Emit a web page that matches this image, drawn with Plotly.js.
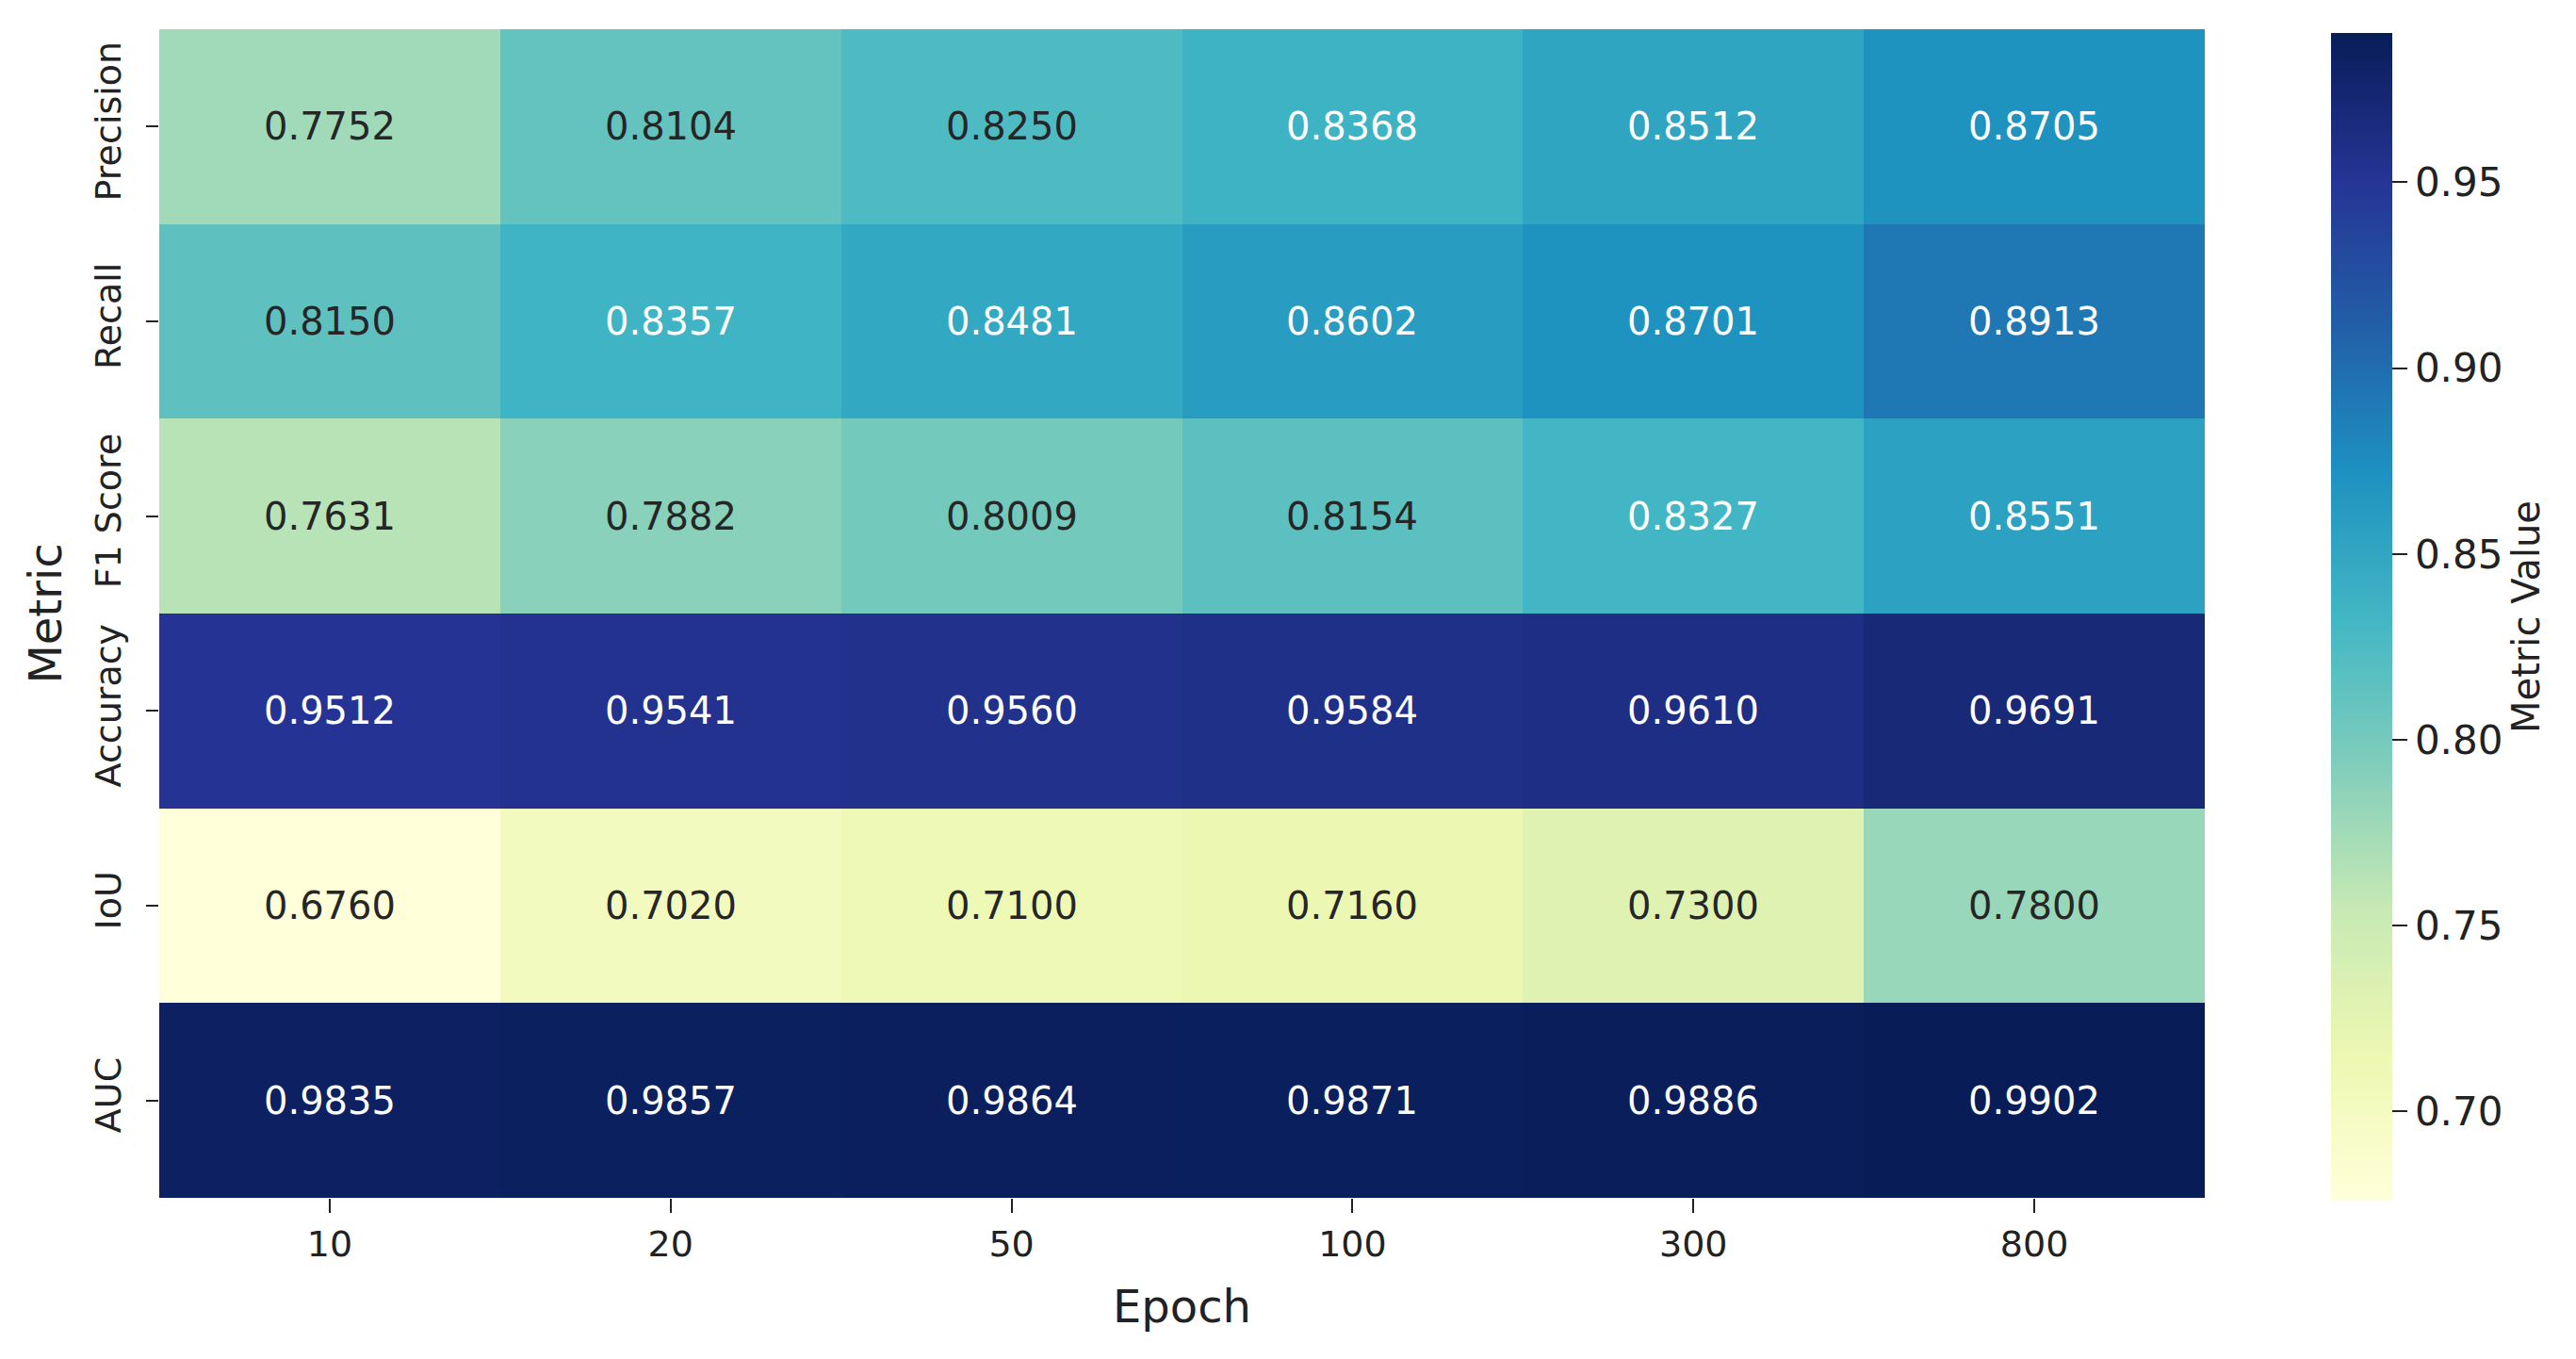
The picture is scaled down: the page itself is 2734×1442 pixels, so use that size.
<!DOCTYPE html>
<html>
<head>
<meta charset="utf-8">
<script src="https://cdn.plot.ly/plotly-3.0.1.min.js"></script>
<style>
html,body{margin:0;padding:0;background:#fff;}
#chart{width:2734px;height:1442px;}
</style>
</head>
<body>
<div id="chart"></div>
<script>
const epochs = ['10', '20', '50', '100', '300', '800'];
const metrics = ['Precision', 'Recall', 'F1 Score', 'Accuracy', 'IoU', 'AUC'];
const precision = [0.7752, 0.8104, 0.8250, 0.8368, 0.8512, 0.8705];
const recall    = [0.8150, 0.8357, 0.8481, 0.8602, 0.8701, 0.8913];
const f1score   = [0.7631, 0.7882, 0.8009, 0.8154, 0.8327, 0.8551];
const accuracy  = [0.9512, 0.9541, 0.9560, 0.9584, 0.9610, 0.9691];
const iou       = [0.6760, 0.7020, 0.7100, 0.7160, 0.7300, 0.7800];
const auc       = [0.9835, 0.9857, 0.9864, 0.9871, 0.9886, 0.9902];
const cbTicks   = [0.70, 0.75, 0.80, 0.85, 0.90, 0.95];

const z = [precision, recall, f1score, accuracy, iou, auc];
const flat = z.flat();
const zmin = Math.min(...flat), zmax = Math.max(...flat);

const ylgnbu = ['#ffffd9','#edf8b1','#c7e9b4','#7fcdbb','#41b6c4','#1d91c0','#225ea8','#253494','#081d58'];
const colorscale = ylgnbu.map((c, i) => [i / (ylgnbu.length - 1), c]);

function hexToRgb(h){return [parseInt(h.slice(1,3),16),parseInt(h.slice(3,5),16),parseInt(h.slice(5,7),16)];}
function colorAt(t){
  t = Math.max(0, Math.min(1, t));
  const n = ylgnbu.length - 1;
  const i = Math.min(n - 1, Math.floor(t * n));
  const f = t * n - i;
  const a = hexToRgb(ylgnbu[i]), b = hexToRgb(ylgnbu[i + 1]);
  return a.map((v, k) => v + (b[k] - v) * f);
}
function luminance(rgb){
  const lin = rgb.map(v => { v /= 255; return v <= 0.03928 ? v / 12.92 : Math.pow((v + 0.055) / 1.055, 2.4); });
  return 0.2126 * lin[0] + 0.7152 * lin[1] + 0.0722 * lin[2];
}

const annotations = [];
metrics.forEach((m, r) => {
  epochs.forEach((e, c) => {
    const v = z[r][c];
    const lum = luminance(colorAt((v - zmin) / (zmax - zmin)));
    annotations.push({
      x: c, y: r, xref: 'x', yref: 'y',
      text: v.toFixed(4), showarrow: false,
      font: {family: 'DejaVu Sans', size: 40, color: lum > 0.408 ? '#262626' : '#ffffff'}
    });
  });
});

const trace = {
  type: 'heatmap',
  x: epochs, y: metrics, z: z,
  zmin: zmin, zmax: zmax,
  colorscale: colorscale,
  xgap: 0, ygap: 0,
  hoverinfo: 'skip',
  colorbar: {
    x: 1.0617, xanchor: 'left', xpad: 0,
    y: 0.9968, yanchor: 'top', ypad: 0,
    len: 1239, lenmode: 'pixels',
    thickness: 65, thicknessmode: 'pixels',
    outlinewidth: 0,
    ticks: 'outside', ticklen: 16, tickwidth: 2, tickcolor: '#222',
    tickvals: cbTicks, ticktext: cbTicks.map(v => v.toFixed(2)),
    tickfont: {family: 'DejaVu Sans', size: 42, color: '#222'},
    title: {text: 'Metric Value', side: 'right', font: {family: 'DejaVu Sans', size: 40, color: '#222'}}
  }
};

const layout = {
  width: 2734, height: 1442,
  margin: {l: 169, r: 394, t: 31, b: 171, pad: 0},
  paper_bgcolor: '#ffffff', plot_bgcolor: '#ffffff',
  font: {family: 'DejaVu Sans', color: '#222'},
  xaxis: {
    type: 'category', categoryorder: 'array', categoryarray: epochs,
    ticks: 'outside', ticklen: 15, tickwidth: 2, tickcolor: '#222',
    showgrid: false, zeroline: false, showline: false,
    tickfont: {family: 'DejaVu Sans', size: 38, color: '#222'},
    title: {text: 'Epoch', font: {family: 'DejaVu Sans', size: 48, color: '#222'}, standoff: 28}
  },
  yaxis: {
    type: 'category', categoryorder: 'array', categoryarray: metrics,
    autorange: 'reversed', ticks: 'outside', ticklen: 13, tickwidth: 2, tickcolor: '#222',
    showgrid: false, zeroline: false, showline: false, tickangle: -90,
    ticklabelstandoff: 12,
    tickfont: {family: 'DejaVu Sans', size: 38, color: '#222'},
    title: {text: 'Metric', font: {family: 'DejaVu Sans', size: 48, color: '#222'}, standoff: 11}
  },
  annotations: annotations,
  showlegend: false
};

Plotly.newPlot('chart', [trace], layout, {staticPlot: true, displayModeBar: false});
</script>
</body>
</html>
